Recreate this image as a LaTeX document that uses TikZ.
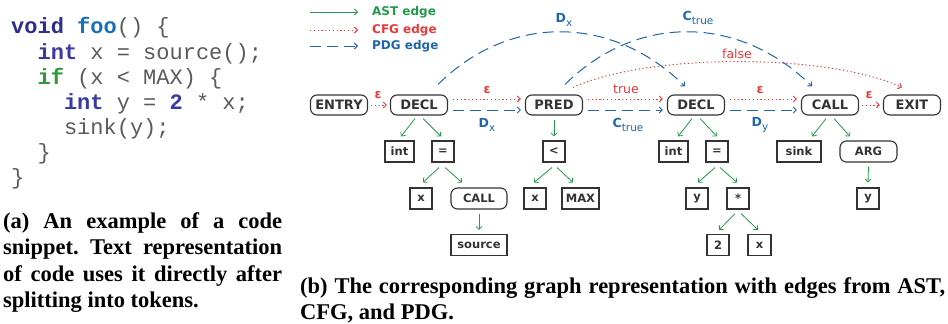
\documentclass[tikz,border=0pt]{standalone}
\usepackage{fontspec}
\setmainfont{Liberation Serif}
\setmonofont{Liberation Mono}
\newfontfamily\gf{DejaVu Sans}
\usetikzlibrary{arrows.meta,calc}
\definecolor{astc}{HTML}{23994A}
\definecolor{cfgc}{HTML}{E8393A}
\definecolor{pdgc}{HTML}{1F66AD}
\definecolor{nodec}{HTML}{333333}
\definecolor{codegrey}{HTML}{5A5A5A}
\definecolor{kwvoid}{HTML}{2E2E8F}
\definecolor{kwfoo}{HTML}{1A70B8}
\definecolor{kwint}{HTML}{3A3AA0}
\definecolor{kwif}{HTML}{2F9A3A}
\newcommand\lblsub[2]{\textbf{#1}\raisebox{-3.5pt}{\fontsize{10.5}{10.5}\selectfont #2}}
\frenchspacing
\begin{document}
\begin{tikzpicture}[x=1pt,y=-1pt,
  mainbox/.style={draw=nodec, line width=1.1pt, rounded corners=6.5pt, minimum width=57pt, minimum height=20pt, inner sep=0pt, text=nodec, font=\gf\bfseries\fontsize{13}{13}\selectfont},
  leaf/.style={draw=nodec, line width=1.1pt, minimum height=21pt, inner sep=0pt, text=nodec, font=\gf\bfseries\fontsize{11.5}{11.5}\selectfont},
  leafr/.style={leaf, rounded corners=6.5pt},
  ast/.style={astc, line width=0.8pt, -{Straight Barb[length=3pt,width=6pt]}},
  cfg/.style={cfgc, line width=1pt, dash pattern=on 1.2pt off 2.6pt, -{Straight Barb[length=3pt,width=6pt]}},
  pdg/.style={pdgc, line width=1pt, dash pattern=on 11pt off 6pt, -{Straight Barb[length=3pt,width=6pt]}},
  elab/.style={inner sep=0pt, font=\gf\fontsize{12.5}{12.5}\selectfont},
  elabb/.style={elab, font=\gf\bfseries\fontsize{12.5}{12.5}\selectfont},
  legtext/.style={anchor=west, inner sep=0pt, font=\gf\bfseries\fontsize{12}{12}\selectfont},
  codeline/.style={anchor=base west, inner sep=0pt, font=\ttfamily\fontsize{22}{25}\selectfont, text=codegrey},
  capline/.style={anchor=base west, inner sep=0pt, font=\bfseries\fontsize{22.5}{26.5}\selectfont}
]
\useasboundingbox (0,0) rectangle (948,324);

% ---------- code snippet ----------
\node[codeline] (c1) at (11,34) {\textcolor{kwvoid}{\bfseries void} \textcolor{kwfoo}{\bfseries foo}() \{};
\node[codeline] (c2) at (37.4,59) {\textcolor{kwint}{\bfseries int} x = source();};
\node[codeline] (c3) at (37.4,84) {\textcolor{kwif}{\bfseries if} (x < MAX) \{};
\node[codeline] (c4) at (63.8,109) {\textcolor{kwint}{\bfseries int} y = \textcolor{kwint}{\bfseries 2} * x;};
\node[codeline] (c5) at (63.8,134) {sink(y);};
\node[codeline] (c6) at (37.4,159) {\}};
\node[codeline] (c7) at (11,184) {\}};

% ---------- caption (a) ----------
\node[capline] (ca1) at (3,228) {\makebox[279pt][s]{(a) An example of a code}};
\node[capline] (ca2) at (3,254.5) {\makebox[279pt][s]{snippet. Text representation}};
\node[capline] (ca3) at (3,281) {\makebox[279pt][s]{of code uses it directly after}};
\node[capline] (ca4) at (3,307.5) {splitting into tokens.};

% ---------- caption (b) ----------
\node[capline] (cb1) at (300,293) {\makebox[645pt][s]{(b) The corresponding graph representation with edges from AST,}};
\node[capline] (cb2) at (300,319) {CFG, and PDG.};

% ---------- legend ----------
\coordinate (l1a) at (310,12); \coordinate (l1b) at (358,12);
\coordinate (l2a) at (310,30); \coordinate (l2b) at (358,30);
\coordinate (l3a) at (310,46); \coordinate (l3b) at (358,46);
\draw[ast] (l1a) -- (l1b);
\draw[cfg] (l2a) -- (l2b);
\draw[pdg] (l3a) -- (l3b);
\node[legtext, text=astc] (lg1) at (372,12) {AST edge};
\node[legtext, text=cfgc] (lg2) at (372,30) {CFG edge};
\node[legtext, text=pdgc] (lg3) at (372,46) {PDG edge};

% ---------- main row ----------
\node[mainbox] (entry) at (339,105) {ENTRY};
\node[mainbox] (decl1) at (419,105) {DECL};
\node[mainbox] (pred)  at (554,105) {PRED};
\node[mainbox] (decl2) at (696,105) {DECL};
\node[mainbox] (call2) at (830,105) {CALL};
\node[mainbox] (exit)  at (912,105) {EXIT};

% ---------- row 1 ----------
\node[leaf, minimum width=29pt] (int1) at (399.5,151.5) {int};
\node[leaf, minimum width=22pt] (eq1)  at (443,151.5) {=};
\node[leaf, minimum width=22pt] (lt)   at (554,151.5) {<};
\node[leaf, minimum width=29pt] (int2) at (673.5,151.5) {int};
\node[leaf, minimum width=22pt] (eq2)  at (717,151.5) {=};
\node[leaf, minimum width=44pt] (sink) at (799,151.5) {sink};
\node[leafr, minimum width=57pt] (arg) at (868.5,151.5) {ARG};

% ---------- row 2 ----------
\node[leaf, minimum width=22pt] (x1)    at (421,198.5) {x};
\node[leafr, minimum width=56pt] (call1) at (479,198.5) {CALL};
\node[leaf, minimum width=22pt] (x2)    at (535,198.5) {x};
\node[leaf, minimum width=37pt] (max)   at (580.5,198.5) {MAX};
\node[leaf, minimum width=22pt] (y1)    at (697,198.5) {y};
\node[leaf, minimum width=22pt] (star)  at (738,198.5) {*};
\node[leaf, minimum width=22pt] (y2)    at (868,198.5) {y};

% ---------- row 3 ----------
\node[leaf, minimum width=56pt] (source) at (479,245) {source};
\node[leaf, minimum width=22pt] (two)    at (718,245) {2};
\node[leaf, minimum width=23pt] (x3)     at (759.5,245) {x};

% ---------- AST edges ----------
\draw[ast] ($(decl1.south)+(-4,3)$) -- ($(int1.north)+(1.5,-4)$);
\draw[ast] ($(decl1.south)+(4,3)$) -- ($(eq1.north)+(-2,-4)$);
\draw[ast] ($(eq1.south)+(-4,5)$) -- ($(x1.north)+(2,-5)$);
\draw[ast] ($(eq1.south)+(2,5)$) -- ($(call1.north)+(-17,-5)$);
\draw[ast] ($(call1.south)+(0,4)$) -- ($(source.north)+(0,-4)$);
\draw[ast] ($(pred.south)+(0,4)$) -- ($(lt.north)+(0,-4)$);
\draw[ast] ($(lt.south)+(-2,5)$) -- ($(x2.north)+(-1,-5)$);
\draw[ast] ($(lt.south)+(3,5)$) -- ($(max.north)+(-7.5,-5)$);
\draw[ast] ($(decl2.south)+(-4,3)$) -- ($(int2.north)+(4.5,-4)$);
\draw[ast] ($(decl2.south)+(4,3)$) -- ($(eq2.north)+(0,-4)$);
\draw[ast] ($(eq2.south)+(-2,5)$) -- ($(y1.north)+(1,-5)$);
\draw[ast] ($(eq2.south)+(3,5)$) -- ($(star.north)+(-1,-5)$);
\draw[ast] ($(star.south)+(-3,4)$) -- ($(two.north)+(1,-4)$);
\draw[ast] ($(star.south)+(3,4)$) -- ($(x3.north)+(-1.5,-4)$);
\draw[ast] ($(call2.south)+(-4,3)$) -- ($(sink.north)+(13,-4)$);
\draw[ast] ($(call2.south)+(4,3)$) -- ($(arg.north)+(-18.5,-4)$);
\draw[ast] ($(arg.south)+(0,4)$) -- ($(y2.north)+(0,-5)$);

% ---------- CFG / PDG straight edges ----------
\draw[cfg] ($(entry.east)+(3,0)$) -- ($(decl1.west)+(-3,0)$);
\draw[cfg] ($(decl1.east)+(5,-6)$) -- ($(pred.west)+(-4,-6)$);
\draw[pdg] ($(decl1.east)+(5,5)$) -- ($(pred.west)+(-4,5)$);
\draw[cfg] ($(pred.east)+(5,-6)$) -- ($(decl2.west)+(-4,-6)$);
\draw[pdg] ($(pred.east)+(5,5)$) -- ($(decl2.west)+(-4,5)$);
\draw[cfg] ($(decl2.east)+(5,-6)$) -- ($(call2.west)+(-4,-6)$);
\draw[pdg] ($(decl2.east)+(5,5)$) -- ($(call2.west)+(-4,5)$);
\draw[cfg] ($(call2.east)+(3,0)$) -- ($(exit.west)+(-3,0)$);

% ---------- curved edges ----------
\draw[pdg] ($(decl1.north)+(19,-10)$) .. controls (510,13) and (613,15) .. ($(decl2.north)+(-11,-8)$);
\draw[pdg] ($(pred.north)+(11,-10)$) .. controls (637,13) and (740,15) .. ($(call2.north)+(-18,-8)$);
\draw[cfg] ($(pred.north)+(19,-7)$) .. controls (648,53) and (827,53) .. ($(exit.north)+(-10,-7)$);

% ---------- edge labels ----------
\node[elabb, text=cfgc] (le1) at (378,95) {ε};
\node[elabb, text=cfgc] (le2) at (487,90) {ε};
\node[elab, text=cfgc] (le3) at (626,89) {true};
\node[elabb, text=cfgc] (le4) at (760,90) {ε};
\node[elabb, text=cfgc] (le5) at (869,95) {ε};
\node[elab, text=pdgc] (lp1) at (487,125) {\lblsub{D}{x}};
\node[elab, text=pdgc] (lp2) at (628,125) {\lblsub{C}{true}};
\node[elab, text=pdgc] (lp3) at (760,125) {\lblsub{D}{y}};
\node[elab, text=pdgc] (lp4) at (564,20) {\lblsub{D}{x}};
\node[elab, text=pdgc] (lp5) at (698,18) {\lblsub{C}{true}};
\node[elab, text=cfgc] (lf) at (737,54) {false};
\end{tikzpicture}
\end{document}
